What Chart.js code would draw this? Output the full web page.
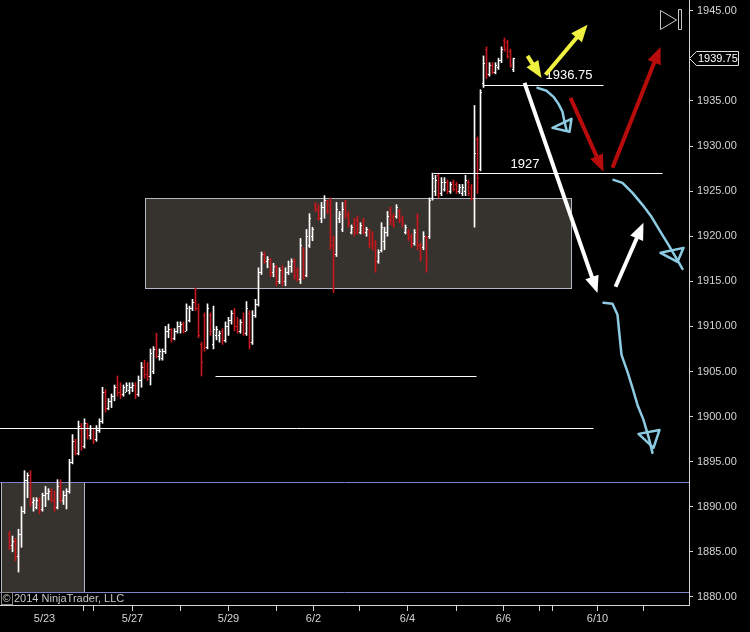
<!DOCTYPE html>
<html>
<head>
<meta charset="utf-8">
<script src="https://cdn.jsdelivr.net/npm/chart.js@4.4.0/dist/chart.umd.min.js"></script>
<style>
  html, body { margin: 0; padding: 0; background: #000; }
  #wrap { width: 750px; height: 632px; }
</style>
</head>
<body>
<div id="wrap"><canvas id="myChart" width="750" height="632"></canvas></div>
<script>
// hourly ES bars, one x slot per bar, [open, high, low, close]
var firstSlot = 3;
var ohlcBars = [
  [1887.0,1887.25,1885.25,1885.75],[1885.75,1886.75,1885.0,1886.25],[1886.25,1886.5,1884.0,1884.5],[1884.5,1887.5,1882.75,1887.0],
  [1887.0,1890.0,1885.5,1889.5],[1889.5,1894.0,1889.25,1893.0],[1893.0,1893.75,1891.0,1893.5],[1893.5,1894.0,1890.0,1890.5],
  [1890.5,1891.0,1889.5,1890.75],[1890.0,1891.0,1889.75,1890.75],[1890.75,1891.0,1889.25,1889.75],[1889.75,1891.5,1889.5,1891.25],
  [1891.25,1892.25,1890.0,1891.5],[1891.5,1892.0,1890.75,1891.75],[1891.75,1892.0,1890.5,1890.75],[1890.75,1891.75,1889.5,1890.0],
  [1890.0,1893.0,1889.75,1892.25],[1892.25,1893.0,1890.5,1890.75],[1890.75,1891.75,1890.25,1891.25],[1891.25,1892.0,1889.75,1891.75],
  [1891.75,1895.25,1891.5,1895.0],[1895.0,1898.0,1894.75,1897.25],[1897.25,1897.5,1895.75,1896.0],[1896.0,1899.5,1895.75,1899.0],
  [1899.0,1899.25,1896.25,1896.75],[1896.75,1899.75,1896.5,1899.25],[1899.25,1899.25,1897.5,1898.0],[1898.0,1899.0,1897.5,1898.75],
  [1898.75,1898.75,1897.0,1897.5],[1897.5,1899.0,1897.25,1898.5],[1898.5,1899.75,1898.25,1899.5],[1899.5,1903.25,1899.25,1902.75],
  [1902.75,1903.0,1900.5,1901.0],[1901.0,1902.0,1900.75,1901.75],[1901.75,1902.5,1901.0,1902.25],[1902.25,1903.5,1901.75,1903.25],
  [1903.25,1904.5,1902.25,1902.75],[1902.75,1903.75,1902.0,1902.5],[1902.5,1903.5,1902.25,1903.25],[1902.75,1903.75,1902.75,1903.5],
  [1903.0,1903.75,1902.5,1903.25],[1903.25,1903.75,1902.75,1903.5],[1903.5,1903.75,1902.0,1902.5],[1902.5,1904.5,1902.25,1904.0],
  [1904.0,1906.0,1903.25,1905.5],[1905.5,1906.25,1904.25,1904.75],[1904.75,1906.0,1904.0,1904.5],[1904.5,1907.5,1903.5,1907.0],
  [1905.0,1907.75,1904.75,1907.5],[1907.5,1909.25,1906.5,1906.75],[1906.75,1907.5,1906.25,1907.25],[1906.5,1907.5,1906.25,1907.25],
  [1907.25,1910.0,1907.0,1909.5],[1909.5,1910.25,1908.75,1909.75],[1909.75,1909.75,1908.25,1908.75],[1908.75,1909.75,1908.5,1909.5],
  [1909.5,1910.5,1909.25,1910.0],[1910.0,1910.5,1909.25,1910.25],[1910.25,1910.5,1909.25,1909.5],[1909.5,1912.5,1909.5,1912.0],
  [1910.75,1912.25,1910.5,1912.0],[1912.0,1913.0,1911.75,1912.75],[1912.75,1914.25,1911.75,1912.0],[1912.0,1912.5,1908.75,1909.0],
  [1908.0,1908.25,1904.5,1906.0],[1911.25,1911.5,1907.25,1907.75],[1907.75,1912.5,1907.5,1912.0],[1911.25,1911.5,1909.0,1909.5],
  [1908.0,1912.25,1907.5,1909.75],[1909.0,1910.0,1908.5,1909.75],[1909.0,1909.5,1908.25,1909.25],[1909.5,1909.75,1908.0,1908.5],
  [1908.5,1910.5,1908.25,1910.0],[1910.0,1911.0,1909.0,1910.75],[1910.75,1911.75,1910.25,1911.5],[1911.5,1912.0,1909.5,1910.0],
  [1910.0,1911.0,1909.25,1909.5],[1909.5,1910.75,1909.25,1910.5],[1910.5,1911.5,1909.0,1909.25],[1909.25,1912.75,1909.0,1912.0],
  [1911.5,1911.75,1907.5,1908.25],[1908.25,1911.75,1908.0,1911.25],[1911.25,1913.0,1911.0,1912.5],[1912.5,1916.5,1912.25,1916.0],
  [1916.0,1918.25,1915.75,1918.0],[1918.0,1918.25,1917.0,1917.25],[1917.25,1917.75,1916.5,1917.5],[1917.5,1917.5,1915.5,1916.0],
  [1916.0,1917.0,1915.5,1916.75],[1916.75,1916.75,1914.5,1915.0],[1915.0,1916.5,1914.75,1916.25],[1916.25,1916.75,1914.5,1915.0],
  [1915.0,1916.5,1914.5,1916.0],[1916.0,1917.25,1915.75,1916.75],[1916.75,1917.5,1916.0,1917.25],[1917.25,1917.5,1915.25,1915.75],
  [1916.25,1916.5,1915.0,1915.25],[1915.25,1919.75,1914.75,1919.0],[1918.5,1918.75,1915.25,1915.75],[1915.75,1920.75,1915.5,1920.0],
  [1919.0,1922.5,1918.75,1922.0],[1920.0,1921.0,1919.5,1920.75],[1923.5,1923.75,1922.75,1923.0],[1923.0,1923.5,1921.75,1922.0],
  [1922.0,1923.75,1921.5,1923.25],[1923.25,1924.5,1922.0,1924.0],[1924.0,1924.0,1922.5,1922.75],[1923.5,1924.25,1918.5,1919.0],
  [1919.0,1920.0,1913.75,1918.0],[1918.0,1923.75,1917.75,1923.0],[1922.0,1922.75,1921.5,1922.5],[1920.75,1923.75,1920.5,1923.0],
  [1923.75,1924.0,1922.0,1922.5],[1922.5,1922.75,1921.0,1921.5],[1920.5,1921.25,1920.25,1921.0],[1921.5,1922.0,1920.0,1920.5],
  [1921.75,1922.25,1920.25,1920.75],[1920.5,1921.5,1920.25,1921.25],[1921.75,1922.0,1920.25,1920.5],[1920.5,1921.0,1920.0,1920.75],
  [1920.75,1920.75,1918.75,1919.25],[1920.25,1920.5,1918.5,1919.0],[1919.5,1919.5,1916.0,1917.25],[1917.25,1918.5,1917.0,1918.25],
  [1918.5,1921.5,1918.25,1921.0],[1919.5,1921.0,1918.5,1920.5],[1920.5,1922.75,1920.0,1922.25],[1923.0,1923.25,1921.25,1921.75],
  [1922.25,1922.5,1921.0,1921.25],[1922.25,1923.5,1922.0,1923.25],[1922.75,1923.0,1921.5,1921.75],[1922.0,1922.25,1921.0,1921.5],
  [1920.5,1921.25,1920.25,1921.0],[1920.5,1920.75,1919.5,1919.75],[1920.0,1920.25,1918.75,1919.25],[1919.25,1920.75,1919.0,1920.5],
  [1922.25,1922.5,1918.5,1919.0],[1919.0,1919.25,1917.25,1917.75],[1918.75,1920.5,1918.5,1920.0],[1920.0,1920.0,1916.0,1917.25],
  [1920.0,1924.25,1919.75,1924.0],[1924.25,1927.0,1924.0,1926.5],[1925.0,1926.75,1924.5,1926.25],[1926.75,1927.0,1924.25,1924.75],
  [1924.75,1926.5,1924.5,1926.0],[1925.25,1926.5,1925.0,1926.0],[1926.0,1926.25,1924.75,1925.0],[1925.0,1926.0,1924.75,1925.75],
  [1926.0,1926.25,1925.0,1925.25],[1925.75,1926.0,1924.75,1925.0],[1925.0,1925.75,1924.75,1925.5],[1924.75,1925.75,1924.5,1925.5],
  [1925.0,1926.75,1924.5,1926.25],[1926.0,1926.25,1924.5,1924.75],[1925.5,1925.75,1924.0,1924.25],[1924.25,1934.5,1921.0,1929.25],
  [1930.75,1931.0,1924.75,1926.5],[1927.5,1936.25,1927.25,1936.0],[1937.0,1940.0,1936.5,1939.25],[1940.75,1941.0,1937.5,1938.0],
  [1938.0,1939.25,1937.75,1939.0],[1939.0,1939.25,1938.0,1938.25],[1938.25,1939.25,1938.0,1939.0],[1938.75,1939.75,1938.5,1939.5],
  [1939.5,1941.0,1939.25,1940.75],[1941.75,1942.0,1940.5,1940.75],[1941.5,1941.75,1939.75,1940.0],[1940.5,1940.75,1938.75,1939.0],
  [1938.5,1939.75,1938.25,1939.75]
];

var priceTicks = [1880, 1885, 1890, 1895, 1900, 1905, 1910, 1915, 1920, 1925, 1930, 1935, 1945];
var timeTickSlots = [14.67, 27.67, 31, 44, 60, 76, 92, 104.33, 119.67, 135.67, 152, 167.67, 179.67, 184, 199, 214.33];
var timeTickLabels = ['5/23', '', '', '5/27', '', '5/29', '', '6/2', '', '6/4', '', '6/6', '', '', '6/10', ''];

// drawn objects (slots / prices)
var zoneStarts = [48.33, 0], zoneEnds = [190.33, 27.67];
var zoneTops = [1924.25, 1892.75], zoneBottoms = [1914.25, 1880.5];
var levelPrices = [1936.75, 1927, 1904.5, 1898.75];
var levelStarts = [161, 144.33, 71.67, -1], levelEnds = [201, 220.67, 158.67, 197.67];
var blueLevels = [1892.75, 1880.5];
var levelTexts = ['1936.75', '1927'], levelTextSlots = [181.67, 170], levelTextPrices = [1937.4, 1927.55];

var arrowTails = [[174.67, 1937.0], [205.0, 1914.4], [175.67, 1940.0], [181.67, 1937.9], [190.0, 1935.35], [204.0, 1927.6]];
var arrowHeads = [[199.0, 1913.7], [214.33, 1921.5], [180.33, 1937.55], [195.67, 1943.45], [201.0, 1927.15], [220.0, 1941.0]];
var arrowColors = ['#ffffff', '#ffffff', '#f0f040', '#f0f040', '#b80c0c', '#b80c0c'];

var sketch1 = [[179.0,1936.46],[182.0,1936.13],[184.33,1935.46],[186.0,1934.68],[187.33,1933.8],[188.0,1932.69],[188.67,1931.8]];
var sketch1Head = [[184.0,1932.02],[190.33,1933.02],[189.67,1931.58]];
var sketch2 = [[204.33,1926.25],[207.33,1925.92],[210.67,1924.81],[214.0,1923.48],[217.0,1922.15],[220.0,1920.49],[222.67,1919.04],[225.0,1917.71],[227.33,1916.38]];
var sketch2Head = [[220.0,1918.16],[227.67,1918.71],[225.67,1917.16]];
var sketch3 = [[201.0,1912.61],[204.0,1912.5],[205.67,1911.28],[206.33,1909.06],[207.0,1906.84],[209.0,1904.96],[210.67,1903.18],[212.33,1901.29],[214.33,1899.63],[216.0,1897.75],[217.33,1895.97]];
var sketch3Head = [[212.67,1898.08],[219.67,1898.52],[217.67,1896.53]];

var upColor = '#ffffff';
var downColor = '#c8161d';
var axisColor = '#d4d4d4';

Chart.defaults.font.family = '"Liberation Sans", Arial, sans-serif';
Chart.defaults.font.size = 11;

function barColor(b) { return b[3] >= b[0] ? upColor : downColor; }

// no extra room for the labels, the plot goes edge to edge like NT
function noPadding(scale) {
  scale.paddingLeft = 0;
  scale.paddingRight = 0;
  scale.paddingTop = 0;
  scale.paddingBottom = 0;
}

function drawArrow(ctx, xs, ys, tail, head, color) {
  var x1 = xs.getPixelForValue(tail[0]), y1 = ys.getPixelForValue(tail[1]);
  var x2 = xs.getPixelForValue(head[0]), y2 = ys.getPixelForValue(head[1]);
  var ang = Math.atan2(y2 - y1, x2 - x1);
  var len = 17, half = 7;
  var bx = x2 - Math.cos(ang) * len, by = y2 - Math.sin(ang) * len;
  ctx.strokeStyle = color;
  ctx.fillStyle = color;
  ctx.lineWidth = 4;
  ctx.lineCap = 'butt';
  ctx.beginPath();
  ctx.moveTo(x1, y1);
  ctx.lineTo(bx + Math.cos(ang) * 2, by + Math.sin(ang) * 2);
  ctx.stroke();
  ctx.beginPath();
  ctx.moveTo(x2, y2);
  ctx.lineTo(bx + Math.sin(ang) * half, by - Math.cos(ang) * half);
  ctx.lineTo(bx - Math.sin(ang) * half, by + Math.cos(ang) * half);
  ctx.closePath();
  ctx.fill();
}

function drawSketch(ctx, xs, ys, pts, head) {
  ctx.strokeStyle = '#8ccbe2';
  ctx.lineWidth = 2.5;
  ctx.lineJoin = 'round';
  ctx.lineCap = 'round';
  ctx.beginPath();
  pts.forEach(function (p, i) {
    var x = xs.getPixelForValue(p[0]), y = ys.getPixelForValue(p[1]);
    if (i === 0) ctx.moveTo(x, y); else ctx.lineTo(x, y);
  });
  ctx.stroke();
  ctx.beginPath();
  head.forEach(function (p, i) {
    var x = xs.getPixelForValue(p[0]), y = ys.getPixelForValue(p[1]);
    if (i === 0) ctx.moveTo(x, y); else ctx.lineTo(x, y);
  });
  ctx.closePath();
  ctx.stroke();
}

var ninjaDraw = {
  id: 'ninjaDraw',
  beforeDatasetsDraw: function (chart) {
    var ctx = chart.ctx, xs = chart.scales.x, ys = chart.scales.y, a = chart.chartArea;
    ctx.save();
    ctx.beginPath();
    ctx.rect(a.left, a.top, a.width, a.height);
    ctx.clip();
    ctx.lineWidth = 1;
    for (var i = 0; i < zoneStarts.length; i++) {
      var x1 = Math.round(xs.getPixelForValue(zoneStarts[i])) + 0.5;
      var x2 = Math.round(xs.getPixelForValue(zoneEnds[i])) + 0.5;
      var y1 = Math.round(ys.getPixelForValue(zoneTops[i])) + 0.5;
      var y2 = Math.round(ys.getPixelForValue(zoneBottoms[i])) + 0.5;
      ctx.fillStyle = '#36322d';
      ctx.fillRect(x1, y1, x2 - x1, y2 - y1);
      ctx.strokeStyle = '#b4b8c4';
      ctx.strokeRect(x1, y1, x2 - x1, y2 - y1);
    }
    ctx.strokeStyle = '#7c84cc';
    blueLevels.forEach(function (p) {
      var y = Math.round(ys.getPixelForValue(p)) + 0.5;
      ctx.beginPath();
      ctx.moveTo(a.left, y);
      ctx.lineTo(a.right, y);
      ctx.stroke();
    });
    ctx.restore();
  },
  afterDatasetsDraw: function (chart) {
    var ctx = chart.ctx, xs = chart.scales.x, ys = chart.scales.y, a = chart.chartArea;
    ctx.save();
    ctx.beginPath();
    ctx.rect(a.left, a.top, a.width, a.height);
    ctx.clip();

    // open / close ticks
    ohlcBars.forEach(function (b, i) {
      var cx = Math.round(xs.getPixelForValue(firstSlot + i) - 0.5);
      ctx.fillStyle = barColor(b);
      ctx.fillRect(cx - 1, Math.round(ys.getPixelForValue(b[0])), 1, 1);
      ctx.fillRect(cx + 1, Math.round(ys.getPixelForValue(b[3])), 1, 1);
    });

    // horizontal levels
    ctx.strokeStyle = '#ffffff';
    ctx.lineWidth = 1;
    levelPrices.forEach(function (p, i) {
      var y = Math.round(ys.getPixelForValue(p)) + 0.5;
      ctx.beginPath();
      ctx.moveTo(xs.getPixelForValue(levelStarts[i]), y);
      ctx.lineTo(xs.getPixelForValue(levelEnds[i]), y);
      ctx.stroke();
    });
    ctx.fillStyle = '#ffffff';
    ctx.font = '13px "Liberation Sans", Arial, sans-serif';
    ctx.textBaseline = 'alphabetic';
    levelTexts.forEach(function (t, i) {
      ctx.fillText(t, xs.getPixelForValue(levelTextSlots[i]), ys.getPixelForValue(levelTextPrices[i]));
    });

    // hand drawn marks
    drawSketch(ctx, xs, ys, sketch1, sketch1Head);
    drawSketch(ctx, xs, ys, sketch2, sketch2Head);
    drawSketch(ctx, xs, ys, sketch3, sketch3Head);
    for (var k = 0; k < arrowTails.length; k++) {
      drawArrow(ctx, xs, ys, arrowTails[k], arrowHeads[k], arrowColors[k]);
    }

    // play button icon top right
    ctx.strokeStyle = '#c8c8c8';
    ctx.lineWidth = 1;
    ctx.beginPath();
    ctx.moveTo(a.right - 28.5, a.top + 10.5);
    ctx.lineTo(a.right - 28.5, a.top + 29.5);
    ctx.lineTo(a.right - 12.5, a.top + 20);
    ctx.closePath();
    ctx.stroke();
    ctx.strokeRect(a.right - 10.5, a.top + 9.5, 3, 20);
    ctx.restore();
  },
  afterDraw: function (chart) {
    var ctx = chart.ctx, ys = chart.scales.y, a = chart.chartArea;
    var last = ohlcBars[ohlcBars.length - 1][3];
    var y = Math.round(ys.getPixelForValue(last)) + 0.5;
    ctx.save();
    ctx.fillStyle = '#000';
    ctx.strokeStyle = '#e0e0e0';
    ctx.lineWidth = 1;
    ctx.beginPath();
    ctx.moveTo(a.right + 0.5, y);
    ctx.lineTo(a.right + 7.5, y - 7);
    ctx.lineTo(a.right + 49.5, y - 7);
    ctx.lineTo(a.right + 49.5, y + 7);
    ctx.lineTo(a.right + 7.5, y + 7);
    ctx.closePath();
    ctx.fill();
    ctx.stroke();
    ctx.fillStyle = '#ffffff';
    ctx.font = '11px "Liberation Sans", Arial, sans-serif';
    ctx.textBaseline = 'middle';
    ctx.fillText(last.toFixed(2), a.right + 9, y + 0.5);

    // copyright
    ctx.fillStyle = '#c8c8c8';
    ctx.strokeStyle = '#8a8a8a';
    ctx.strokeRect(1.5, a.bottom - 12.5, 11, 12);
    ctx.fillText('\u00a9', 2.5, a.bottom - 6);
    ctx.fillText('2014 NinjaTrader, LLC', 14, a.bottom - 6);
    ctx.restore();
  }
};

var graphTarget = document.getElementById('myChart');
var barGraph = new Chart(graphTarget, {
  type: 'bar',
  data: {
    datasets: [{
      data: ohlcBars.map(function (b, i) { return { x: firstSlot + i, y: [b[2], b[1]] }; }),
      backgroundColor: ohlcBars.map(barColor),
      borderWidth: 0,
      barThickness: 1,
      grouped: false
    }]
  },
  options: {
    responsive: false,
    devicePixelRatio: 1,
    animation: false,
    events: [],
    layout: { padding: 0 },
    plugins: { legend: { display: false }, tooltip: { enabled: false } },
    scales: {
      x: {
        type: 'linear',
        position: 'bottom',
        offset: false,
        min: -1 / 6,
        max: 229.5,
        afterBuildTicks: function (scale) {
          scale.ticks = timeTickSlots.map(function (v) { return { value: v }; });
        },
        afterFit: function (scale) { scale.height = 27; noPadding(scale); },
        ticks: {
          autoSkip: false,
          maxRotation: 0,
          minRotation: 0,
          padding: 1,
          color: '#d4d4d4',
          callback: function (v, i) { return timeTickLabels[i]; }
        },
        grid: {
          offset: false,
          drawOnChartArea: false,
          tickLength: 6,
          tickColor: function (c) { return c.index === 0 ? 'rgba(0,0,0,0)' : axisColor; }
        },
        border: { color: axisColor }
      },
      y: {
        type: 'linear',
        position: 'right',
        min: 1879.1,
        max: 1946.2,
        afterBuildTicks: function (scale) {
          scale.ticks = priceTicks.map(function (v) { return { value: v }; });
        },
        afterFit: function (scale) { scale.width = 61; noPadding(scale); },
        ticks: {
          padding: 4,
          color: '#d4d4d4',
          callback: function (v) { return v.toFixed(2); }
        },
        grid: { drawOnChartArea: false, tickLength: 4, tickColor: axisColor },
        border: { color: axisColor }
      }
    }
  },
  plugins: [ninjaDraw]
});
</script>
</body>
</html>
